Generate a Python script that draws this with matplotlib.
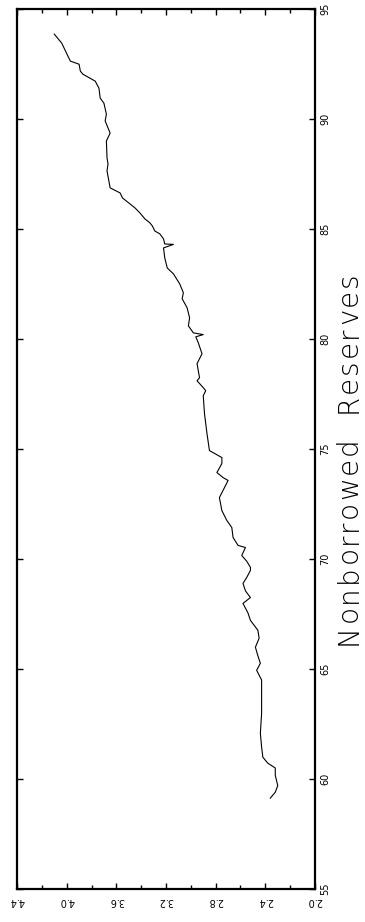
import matplotlib
matplotlib.use("Agg")
import matplotlib.pyplot as plt
from matplotlib.ticker import MultipleLocator, FixedLocator
from matplotlib.font_manager import FontProperties

# Time (years, 19xx) and log nonborrowed reserves
time = [59.13, 59.40, 59.70, 60.17, 60.50, 60.72, 60.99, 61.45, 62.08, 62.99,
        63.90, 64.50, 64.94, 65.26, 65.60, 65.99, 66.40, 66.76, 67.21, 67.55,
        67.98, 68.25, 68.55, 68.89, 69.16, 69.48, 69.62, 69.90, 70.16, 70.52,
        70.62, 70.98, 71.43, 71.75, 72.20, 72.79, 73.57, 73.70, 73.93, 74.34,
        74.61, 74.93, 75.70, 76.61, 77.42, 77.65, 77.79, 78.10, 78.24, 78.88,
        79.33, 79.83, 80.10, 80.20, 80.28, 80.60, 80.96, 81.42, 81.83, 82.10,
        82.51, 82.96, 83.23, 83.69, 84.14, 84.30, 84.32, 84.55, 84.78, 84.91,
        85.14, 85.28, 85.46, 85.73, 85.96, 86.41, 86.64, 86.87, 87.18, 87.64,
        87.96, 88.23, 89.00, 89.36, 89.91, 90.22, 90.72, 90.95, 91.40, 91.72,
        92.04, 92.18, 92.49, 92.63, 92.86, 93.45, 93.86]
nbr = [2.36, 2.32, 2.30, 2.32, 2.32, 2.38, 2.42, 2.43, 2.44, 2.43,
       2.43, 2.43, 2.47, 2.44, 2.46, 2.48, 2.45, 2.46, 2.52, 2.54,
       2.58, 2.52, 2.56, 2.58, 2.55, 2.52, 2.52, 2.55, 2.59, 2.56,
       2.62, 2.66, 2.67, 2.71, 2.75, 2.77, 2.70, 2.74, 2.79, 2.75,
       2.75, 2.85, 2.87, 2.89, 2.90, 2.88, 2.90, 2.95, 2.93, 2.95,
       2.91, 2.94, 2.96, 2.90, 2.98, 3.02, 3.01, 3.03, 3.07, 3.06,
       3.09, 3.14, 3.19, 3.21, 3.22, 3.14, 3.21, 3.22, 3.25, 3.29,
       3.31, 3.33, 3.37, 3.41, 3.45, 3.55, 3.57, 3.65, 3.66, 3.675,
       3.667, 3.675, 3.68, 3.65, 3.69, 3.68, 3.70, 3.73, 3.74, 3.77,
       3.87, 3.89, 3.90, 3.97, 3.99, 4.04, 4.10]

value_ticks = [2.0, 2.4, 2.8, 3.2, 3.6, 4.0, 4.4]
year_ticks = [55, 60, 65, 70, 75, 80, 85, 90, 95]
title = "Nonborrowed  Reserves"

W, H = 365, 922
fig = plt.figure(figsize=(W / 100, H / 100), dpi=100)
ax = fig.add_axes([17 / W, (H - 889) / H, (315 - 17) / W, (889 - 9) / H])

ax.plot(nbr, time, color="black", linewidth=0.8)
ax.set_xlim(4.4, 2.0)
ax.set_ylim(55, 95)

ax.xaxis.set_major_locator(FixedLocator(value_ticks))
ax.xaxis.set_minor_locator(MultipleLocator(0.2))
ax.set_xticklabels([f"{v:.1f}" for v in value_ticks], rotation=180,
                   fontsize=7, family="DejaVu Sans")
ax.yaxis.set_major_locator(FixedLocator(year_ticks))
ax.yaxis.tick_right()
ax.set_yticklabels([str(y) for y in year_ticks], rotation=90, va="center",
                   fontsize=7, family="DejaVu Sans")

ax.tick_params(axis="x", which="both", direction="in", top=True, bottom=True,
               pad=5)
ax.tick_params(axis="x", which="major", length=4, width=1)
ax.tick_params(axis="x", which="minor", length=3, width=1)
ax.tick_params(axis="y", which="major", direction="in", left=True, right=True,
               length=4, width=1, pad=4)

for s in ax.spines.values():
    s.set_linewidth(1.6)

# Title with wide letter spacing, rotated to read bottom-to-top
prop = FontProperties(family="DejaVu Sans", weight="light", size=20)
renderer = fig.canvas.get_renderer()
def tw(s):
    w, h, d = renderer.get_text_width_height_descent(s, prop, ismath=False)
    return w
offsets = [tw(title[:i + 1]) - tw(title[i]) if title[i] != " " else None
           for i in range(len(title))]
natural = tw(title)
start_px, end_px = 645, 272          # title span in image rows
track = ((start_px - end_px) - natural) / (len(title) - 1)
baseline_x = 357
for i, ch in enumerate(title):
    if ch == " ":
        continue
    ypix = start_px - (offsets[i] + i * track)
    fig.text(baseline_x / W, 1 - ypix / H, ch, rotation=90,
             rotation_mode="anchor", ha="left", va="baseline",
             fontproperties=prop)

fig.savefig("out.png", dpi=100)
